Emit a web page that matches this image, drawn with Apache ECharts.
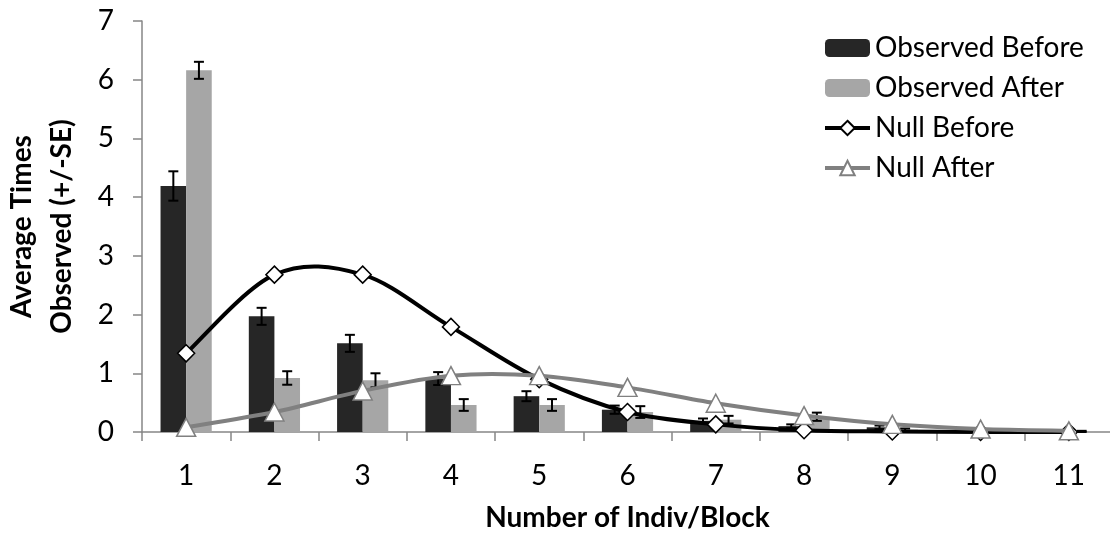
<!DOCTYPE html>
<html>
<head>
<meta charset="utf-8">
<script src="https://cdn.jsdelivr.net/npm/echarts@6/dist/echarts.min.js"></script>
<style>
  html, body { margin: 0; padding: 0; background: #ffffff; }
  #chart { width: 1110px; height: 533px; }
</style>
</head>
<body>
<div id="chart"></div>
<script>
// Group sizes on the category axis
const categories = ['1', '2', '3', '4', '5', '6', '7', '8', '9', '10', '11'];

// Observed frequencies with their standard errors
const observedBefore   = [4.19, 1.97, 1.51, 0.91, 0.61, 0.38, 0.19, 0.10, 0.08, 0.02, 0.01];
const observedBeforeSE = [0.25, 0.145, 0.145, 0.11, 0.085, 0.07, 0.04, 0.03, 0.03, 0.01, 0.01];
const observedAfter    = [6.16, 0.92, 0.88, 0.46, 0.46, 0.34, 0.21, 0.26, 0.04, 0.01, 0.01];
const observedAfterSE  = [0.145, 0.115, 0.12, 0.10, 0.10, 0.10, 0.065, 0.07, 0.02, 0.01, 0.01];

// Null-model expectations
const nullBefore = [1.34, 2.68, 2.68, 1.79, 0.90, 0.34, 0.13, 0.03, 0.01, 0.00, 0.00];
const nullAfter  = [0.08, 0.34, 0.70, 0.96, 0.96, 0.76, 0.49, 0.28, 0.13, 0.05, 0.02];

const yTicks = [0, 1, 2, 3, 4, 5, 6, 7];

const FONT = 'Lato';
const CAT_GAP = 0.42;   // share of a category band left empty around the bar pair

// Vertical error bars centred on each bar of a grouped pair (side -1 = left bar, +1 = right bar)
function errorBarSeries(name, values, errors, side) {
  return {
    name: name + ' SE',
    type: 'custom',
    z: 3,
    silent: true,
    data: values.map((v, i) => [i, v, errors[i]]),
    encode: { x: 0, y: 1 },
    renderItem: function (params, api) {
      const idx = api.value(0);
      const v = api.value(1);
      const e = api.value(2);
      const band = api.size([1, 0])[0];
      const barW = band * (1 - CAT_GAP) / 2;
      const top = api.coord([idx, v + e]);
      const bot = api.coord([idx, Math.max(0, v - e)]);
      const x = top[0] + side * barW / 2;
      const cap = 5;
      const style = { stroke: '#000000', lineWidth: 2 };
      return {
        type: 'group',
        children: [
          { type: 'line', shape: { x1: x, y1: top[1], x2: x, y2: bot[1] }, style: style },
          { type: 'line', shape: { x1: x - cap, y1: top[1], x2: x + cap, y2: top[1] }, style: style },
          { type: 'line', shape: { x1: x - cap, y1: bot[1], x2: x + cap, y2: bot[1] }, style: style }
        ]
      };
    }
  };
}

// Smoothed curve through the points (Catmull-Rom style cubic segments, one per interval)
function curveSeries(name, values, color, z) {
  return {
    name: name + ' curve',
    type: 'custom',
    z: z,
    silent: true,
    data: values.map((v, i) => [i, v]),
    encode: { x: 0, y: 1 },
    renderItem: function (params, api) {
      const i = params.dataIndex;
      const n = values.length;
      if (i >= n - 1) return null;
      const pt = (k) => api.coord([Math.min(n - 1, Math.max(0, k)), values[Math.min(n - 1, Math.max(0, k))]]);
      const p0 = pt(i - 1), p1 = pt(i), p2 = pt(i + 1), p3 = pt(i + 2);
      return {
        type: 'bezierCurve',
        shape: {
          x1: p1[0], y1: p1[1],
          cpx1: p1[0] + (p2[0] - p0[0]) / 6, cpy1: p1[1] + (p2[1] - p0[1]) / 6,
          cpx2: p2[0] - (p3[0] - p1[0]) / 6, cpy2: p2[1] - (p3[1] - p1[1]) / 6,
          x2: p2[0], y2: p2[1]
        },
        style: { stroke: color, lineWidth: 4, fill: null, lineCap: 'round' }
      };
    }
  };
}

const chart = echarts.init(document.getElementById('chart'), null, { renderer: 'canvas' });

chart.setOption({
  animation: false,
  backgroundColor: '#ffffff',
  textStyle: { fontFamily: FONT },
  grid: { left: 142, top: 21, width: 971, height: 411, containLabel: false, outerBoundsMode: 'none' },
  legend: {
    left: 823,
    top: 33,
    padding: 0,
    orient: 'vertical',
    itemWidth: 45,
    itemHeight: 18,
    itemGap: 10,
    data: [
      { name: 'Observed Before' },
      { name: 'Observed After' },
      { name: 'Null Before', lineStyle: { color: '#000000', width: 4, opacity: 1 } },
      { name: 'Null After', lineStyle: { color: '#808080', width: 4, opacity: 1 } }
    ],
    textStyle: { fontFamily: FONT, fontSize: 28, color: '#000000', lineHeight: 30 }
  },
  xAxis: {
    type: 'category',
    data: categories,
    name: 'Number of Indiv/Block',
    nameLocation: 'middle',
    nameGap: 72,
    nameTextStyle: { fontFamily: FONT, fontSize: 28, fontWeight: 'bold', color: '#000000' },
    axisLine: { show: true, lineStyle: { color: '#868686', width: 1.5 } },
    axisTick: { show: true, length: 9, lineStyle: { color: '#868686', width: 1.5 } },
    axisLabel: { fontFamily: FONT, fontSize: 28, color: '#000000', margin: 30 },
    splitLine: { show: false }
  },
  yAxis: {
    type: 'value',
    min: yTicks[0],
    max: yTicks[yTicks.length - 1],
    interval: 1,
    name: 'Average Times\nObserved (+/-SE)',
    nameLocation: 'middle',
    nameGap: 60,
    nameRotate: 90,
    nameTextStyle: { fontFamily: FONT, fontSize: 28, fontWeight: 'bold', color: '#000000', lineHeight: 40 },
    axisLine: { show: true, lineStyle: { color: '#868686', width: 1.5 } },
    axisTick: { show: true, length: 9, lineStyle: { color: '#868686', width: 1.5 } },
    axisLabel: { fontFamily: FONT, fontSize: 28, color: '#000000', margin: 28 },
    splitLine: { show: false }
  },
  series: [
    {
      name: 'Observed Before',
      type: 'bar',
      data: observedBefore,
      barGap: '0%',
      barCategoryGap: (CAT_GAP * 100) + '%',
      itemStyle: { color: '#262626' },
      z: 2
    },
    {
      name: 'Observed After',
      type: 'bar',
      data: observedAfter,
      barGap: '0%',
      barCategoryGap: (CAT_GAP * 100) + '%',
      itemStyle: { color: '#a6a6a6' },
      z: 2
    },
    errorBarSeries('Observed Before', observedBefore, observedBeforeSE, -1),
    errorBarSeries('Observed After', observedAfter, observedAfterSE, 1),
    curveSeries('Null Before', nullBefore, '#000000', 4),
    {
      name: 'Null Before',
      type: 'line',
      data: nullBefore,
      symbol: 'diamond',
      symbolSize: [17, 17],
      showAllSymbol: true,
      lineStyle: { color: '#000000', width: 4, opacity: 0 },
      itemStyle: { color: '#ffffff', borderColor: '#000000', borderWidth: 1.5 },
      z: 4
    },
    curveSeries('Null After', nullAfter, '#808080', 5),
    {
      name: 'Null After',
      type: 'line',
      data: nullAfter,
      symbol: 'triangle',
      symbolSize: [19, 18],
      showAllSymbol: true,
      lineStyle: { color: '#808080', width: 4, opacity: 0 },
      itemStyle: { color: '#ffffff', borderColor: '#808080', borderWidth: 1.5 },
      z: 5
    }
  ]
});
</script>
</body>
</html>
